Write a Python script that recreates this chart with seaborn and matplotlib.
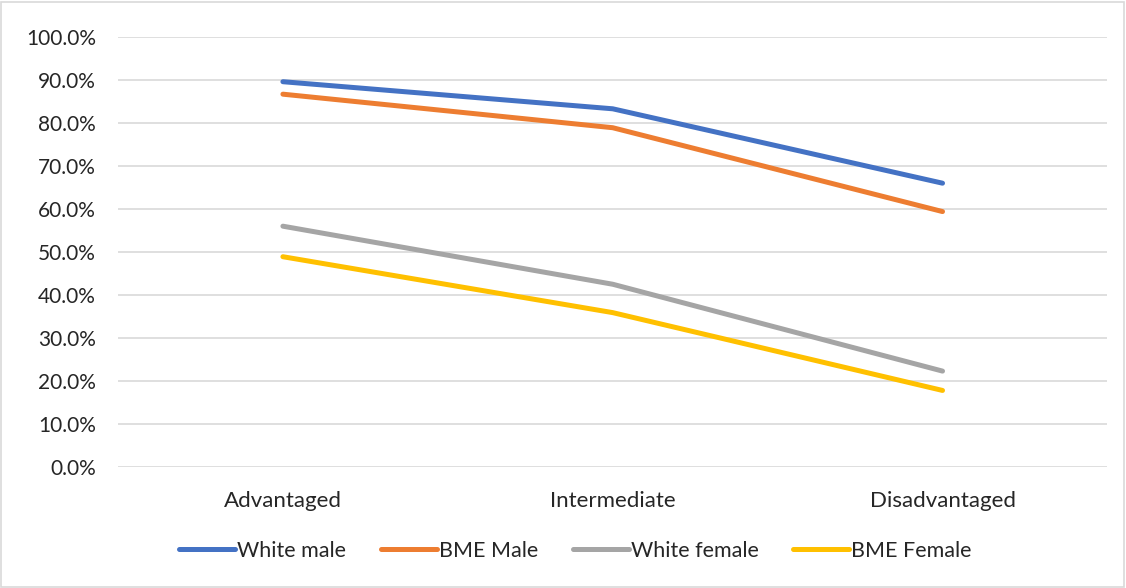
import numpy as np
import pandas as pd
import seaborn as sns
import matplotlib.pyplot as plt
from matplotlib.patches import Rectangle
from matplotlib.ticker import PercentFormatter

categories = ['Advantaged', 'Intermediate', 'Disadvantaged']
white_male = [89.6, 83.3, 66.0]
bme_male = [86.7, 78.9, 59.4]
white_female = [56.0, 42.5, 22.3]
bme_female = [48.9, 35.9, 17.8]
series_names = ['White male', 'BME Male', 'White female', 'BME Female']
colors = ['#4472C4', '#ED7D31', '#A5A5A5', '#FFC000']

rows = []
for name, vals in zip(series_names, [white_male, bme_male, white_female, bme_female]):
    for c, v in zip(categories, vals):
        rows.append({'group': c, 'value': v, 'series': name})
df = pd.DataFrame(rows)

sns.set_theme(style='white')
plt.rcParams['font.family'] = ['Lato', 'DejaVu Sans']

fig = plt.figure(figsize=(11.26, 5.88), dpi=100)
ax = fig.add_axes([0.1048, 0.2058, 0.8787, 0.7313])

sns.lineplot(data=df, x='group', y='value', hue='series', hue_order=series_names,
             palette=colors, linewidth=3.6, sort=False, ax=ax,
             solid_capstyle='round', solid_joinstyle='round')

ax.set_xlim(-0.5, 2.5)
ax.set_ylim(0, 100)
ax.set_yticks(np.arange(0, 101, 10))
ax.yaxis.set_major_formatter(PercentFormatter(decimals=1))
ax.grid(axis='y', color='#D9D9D9', linewidth=1.2)
ax.set_axisbelow(True)
for s in ax.spines.values():
    s.set_visible(False)
ax.tick_params(axis='y', length=0, pad=16, labelsize=15, labelcolor='#262626')
ax.tick_params(axis='x', length=0, pad=17, labelsize=16, labelcolor='#262626')
ax.set_xlabel('')
ax.set_ylabel('')

handles, labels = ax.get_legend_handles_labels()
ax.get_legend().remove()
fig.legend(handles, labels, loc='center', bbox_to_anchor=(0.511, 0.063), ncol=4,
           frameon=False, fontsize=15.5, handlelength=2.6, handletextpad=0.1,
           columnspacing=1.6, labelcolor='#262626')

fig.patches.append(Rectangle((0.001, 0.002), 0.997, 0.995, transform=fig.transFigure,
                             fill=False, edgecolor='#D9D9D9', linewidth=1.2))

fig.savefig('out.png', dpi=100)
